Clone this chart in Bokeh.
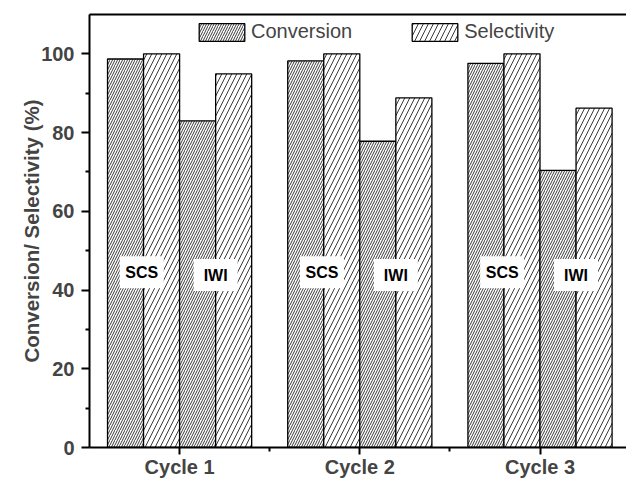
from bokeh.plotting import figure
from bokeh.models import (FixedTicker, LinearAxis, Legend, LegendItem, Range1d,
                          ColumnDataSource)
from bokeh.core.properties import value
from bokeh.embed import file_html
from bokeh.resources import INLINE

# ---- data ----
cycles = ["Cycle 1", "Cycle 2", "Cycle 3"]
scs_conversion = [98.7, 98.2, 97.6]
scs_selectivity = [100.0, 100.0, 100.0]
iwi_conversion = [83.0, 77.8, 70.4]
iwi_selectivity = [94.9, 88.8, 86.2]
catalyst_labels = ["SCS", "IWI"]
label_offsets = [-0.21, 0.2]
label_heights = [44.5, 43.8]
y_ticks = [0, 20, 40, 60, 80, 100]
y_minor = [10, 30, 50, 70, 90]

FONT = "Liberation Sans"
idx = [i + 1 for i in range(len(cycles))]
bw = 0.2

p = figure(width=626, height=480, output_backend="svg", toolbar_location=None,
           x_range=Range1d(0.5, 3.48), y_range=Range1d(0, 110),
           min_border_left=89, min_border_right=0, min_border_top=14,
           min_border_bottom=32, background_fill_color="white",
           border_fill_color="white")
p.outline_line_color = None
p.grid.visible = False
p.xaxis.visible = False
p.yaxis.visible = False

conv_style = dict(fill_color="white", line_color="black", line_width=1.3,
                  hatch_pattern="/", hatch_scale=5, hatch_color="#3a3a3a",
                  hatch_weight=1)
sel_style = dict(fill_color="white", line_color="black", line_width=1.3,
                 hatch_pattern="/", hatch_scale=10, hatch_color="#3a3a3a",
                 hatch_weight=1)

r_conv = p.vbar(x=[i - 0.3 for i in idx], top=scs_conversion, width=bw, bottom=0, **conv_style)
r_sel = p.vbar(x=[i - 0.1 for i in idx], top=scs_selectivity, width=bw, bottom=0, **sel_style)
p.vbar(x=[i + 0.1 for i in idx], top=iwi_conversion, width=bw, bottom=0, **conv_style)
p.vbar(x=[i + 0.3 for i in idx], top=iwi_selectivity, width=bw, bottom=0, **sel_style)

# catalyst labels with white boxes
lx, ly, lt = [], [], []
for i in idx:
    for name, off, h in zip(catalyst_labels, label_offsets, label_heights):
        lx.append(i + off)
        ly.append(h)
        lt.append(name)
src = ColumnDataSource(dict(x=lx, y=ly, t=lt))
p.rect(x="x", y="y", width=44, height=32, width_units="screen",
       height_units="screen", fill_color="white", line_color=None, source=src)
p.text(x="x", y="y", text="t", text_align="center", text_baseline="middle",
       text_font=value(FONT), text_font_style="bold", text_font_size="16px",
       text_color="black", source=src)

# axes
ax = LinearAxis(ticker=FixedTicker(ticks=y_ticks, minor_ticks=y_minor))
ax.axis_label = "Conversion/ Selectivity (%)"
ax.axis_label_text_font = FONT
ax.axis_label_text_font_style = "bold"
ax.axis_label_text_font_size = "20.5px"
ax.axis_label_standoff = -5
ax.major_label_text_font = FONT
ax.major_label_text_font_style = "bold"
ax.major_label_text_font_size = "20px"
ax.major_label_standoff = 7
ax.axis_line_width = 2
ax.major_tick_line_width = 2
ax.minor_tick_line_width = 2
ax.major_tick_out = 8
ax.major_tick_in = 0
ax.minor_tick_out = 4
ax.minor_tick_in = 0
p.add_layout(ax, "left")

bx = LinearAxis(ticker=FixedTicker(ticks=idx, minor_ticks=[1.5, 2.5]))
bx.major_label_overrides = {i: c for i, c in zip(idx, cycles)}
bx.major_label_text_font = FONT
bx.major_label_text_font_style = "bold"
bx.major_label_text_font_size = "20px"
bx.major_label_standoff = 1
bx.axis_line_width = 2
bx.major_tick_line_width = 2
bx.minor_tick_line_width = 2
bx.major_tick_out = 7
bx.major_tick_in = 0
bx.minor_tick_out = 4
bx.minor_tick_in = 0
p.add_layout(bx, "below")

tx = LinearAxis(ticker=FixedTicker(ticks=[]))
tx.axis_line_width = 2
tx.major_tick_line_color = None
tx.minor_tick_line_color = None
tx.major_label_text_font_size = "0px"
p.add_layout(tx, "above")

legend = Legend(items=[LegendItem(label="Conversion", renderers=[r_conv]),
                       LegendItem(label="Selectivity", renderers=[r_sel])],
                location=(104, 404), orientation="horizontal",
                glyph_width=57, glyph_height=22, label_standoff=1, spacing=54,
                padding=0, margin=0, border_line_color=None,
                background_fill_alpha=0, label_text_font=FONT,
                label_text_font_size="20px")
p.add_layout(legend)

open("out.html", "w").write(file_html(p, INLINE))
